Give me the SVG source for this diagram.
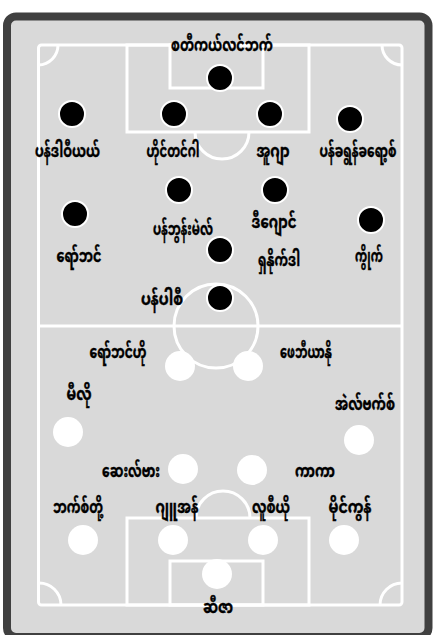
<svg xmlns="http://www.w3.org/2000/svg" width="435" height="635" viewBox="0 0 435 635">
<style>
.ln{fill:none;stroke:#ffffff;stroke-width:3}
.hp{fill:#000000;stroke:#ffffff;stroke-width:2}
.ap{fill:#ffffff}
.lb{font-family:"Noto Sans Myanmar","Myanmar Text","Padauk","Noto Sans",sans-serif;font-size:17.5px;font-weight:bold;fill:#000000;stroke:#000000;stroke-width:0.4;text-anchor:middle}
</style>
<rect x="7" y="16.5" width="421.5" height="620.5" rx="9" fill="#d9d9d9" stroke="#404040" stroke-width="8"/>
<g id="pitch">
<rect class="ln" x="38.5" y="45" width="363.5" height="560" rx="3"/>
<line class="ln" x1="38.5" y1="326" x2="402" y2="326"/>
<circle class="ln" cx="216" cy="326" r="42"/>
<rect class="ln" x="127" y="45" width="182" height="87"/>
<rect class="ln" x="170" y="45" width="93" height="43"/>
<path class="ln" d="M195,132 A27,27 0 0 0 249,132"/>
<rect class="ln" x="127" y="518" width="182" height="87"/>
<rect class="ln" x="170" y="561" width="93" height="44"/>
<path class="ln" d="M196,518 A27,27 0 0 1 250,518"/>
<path class="ln" d="M58,45 A20,20 0 0 1 38.5,65"/>
<path class="ln" d="M382,45 A20,20 0 0 0 402,65"/>
<path class="ln" d="M38.5,583 A22,22 0 0 1 61,605"/>
<path class="ln" d="M402,583 A22,22 0 0 0 380,605"/>
</g>
<g id="home">
<g id="h1"><circle class="hp" cx="220" cy="78" r="13"/><text class="lb" x="222" y="51" textLength="102" lengthAdjust="spacingAndGlyphs">စတီကယ်လင်ဘက်</text></g>
<g id="h2"><circle class="hp" cx="72" cy="114" r="13"/><text class="lb" x="67.5" y="157" textLength="65" lengthAdjust="spacingAndGlyphs">ပန်ဒါဝီယယ်</text></g>
<g id="h3"><circle class="hp" cx="174" cy="114" r="13"/><text class="lb" x="173" y="157" textLength="53" lengthAdjust="spacingAndGlyphs">ဟိုင်တင်ဂါ</text></g>
<g id="h4"><circle class="hp" cx="270" cy="114" r="13"/><text class="lb" x="273" y="157" textLength="33" lengthAdjust="spacingAndGlyphs">အူဂျာ</text></g>
<g id="h5"><circle class="hp" cx="350" cy="119" r="13"/><text class="lb" x="358" y="157" textLength="77" lengthAdjust="spacingAndGlyphs">ပန်ခရွန်ခရော့စ်</text></g>
<g id="h6"><circle class="hp" cx="179" cy="190" r="13"/><text class="lb" x="183" y="235" textLength="60" lengthAdjust="spacingAndGlyphs">ပန်ဘွန်းမဲလ်</text></g>
<g id="h7"><circle class="hp" cx="275" cy="190" r="13"/><text class="lb" x="274" y="228" textLength="45" lengthAdjust="spacingAndGlyphs">ဒီဂျောင်</text></g>
<g id="h8"><circle class="hp" cx="75" cy="214" r="13"/><text class="lb" x="79" y="262" textLength="45" lengthAdjust="spacingAndGlyphs">ရော်ဘင်</text></g>
<g id="h9"><circle class="hp" cx="220" cy="250" r="13"/><text class="lb" x="279" y="266" textLength="42" lengthAdjust="spacingAndGlyphs">ရှနိုက်ဒါ</text></g>
<g id="h10"><circle class="hp" cx="371" cy="220" r="13"/><text class="lb" x="369" y="262" textLength="28" lengthAdjust="spacingAndGlyphs">ကွိုက်</text></g>
<g id="h11"><circle class="hp" cx="220" cy="298" r="13"/><text class="lb" x="162" y="305" textLength="42" lengthAdjust="spacingAndGlyphs">ပန်ပါစီ</text></g>
</g>
<g id="away">
<g id="a1"><circle class="ap" cx="180" cy="366" r="15"/><text class="lb" x="118" y="358" textLength="57" lengthAdjust="spacingAndGlyphs">ရော်ဘင်ဟို</text></g>
<g id="a2"><circle class="ap" cx="248" cy="366" r="15"/><text class="lb" x="306" y="358" textLength="52" lengthAdjust="spacingAndGlyphs">ဖေဘီယာနို</text></g>
<g id="a3"><circle class="ap" cx="68" cy="432" r="15"/><text class="lb" x="79" y="400" textLength="25" lengthAdjust="spacingAndGlyphs">မီလို</text></g>
<g id="a4"><circle class="ap" cx="359" cy="440" r="15"/><text class="lb" x="365" y="410" textLength="60" lengthAdjust="spacingAndGlyphs">အဲလ်ဗက်စ်</text></g>
<g id="a5"><circle class="ap" cx="183" cy="469" r="15"/><text class="lb" x="131" y="477" textLength="58" lengthAdjust="spacingAndGlyphs">ဆေးလ်ဗား</text></g>
<g id="a6"><circle class="ap" cx="252" cy="470" r="15"/><text class="lb" x="315" y="477" textLength="40" lengthAdjust="spacingAndGlyphs">ကာကာ</text></g>
<g id="a7"><circle class="ap" cx="83" cy="540" r="15"/><text class="lb" x="78" y="513" textLength="50" lengthAdjust="spacingAndGlyphs">ဘက်စ်တို့</text></g>
<g id="a8"><circle class="ap" cx="173" cy="540" r="15"/><text class="lb" x="177" y="513" textLength="43" lengthAdjust="spacingAndGlyphs">ဂျူအန်</text></g>
<g id="a9"><circle class="ap" cx="263" cy="540" r="15"/><text class="lb" x="271" y="513" textLength="38" lengthAdjust="spacingAndGlyphs">လူစီယို</text></g>
<g id="a10"><circle class="ap" cx="344" cy="540" r="15"/><text class="lb" x="350" y="513" textLength="43" lengthAdjust="spacingAndGlyphs">မိုင်ကွန်</text></g>
<g id="a11"><circle class="ap" cx="217" cy="574" r="15"/><text class="lb" x="218" y="613" textLength="30" lengthAdjust="spacingAndGlyphs">ဆီဇာ</text></g>
</g>
</svg>
